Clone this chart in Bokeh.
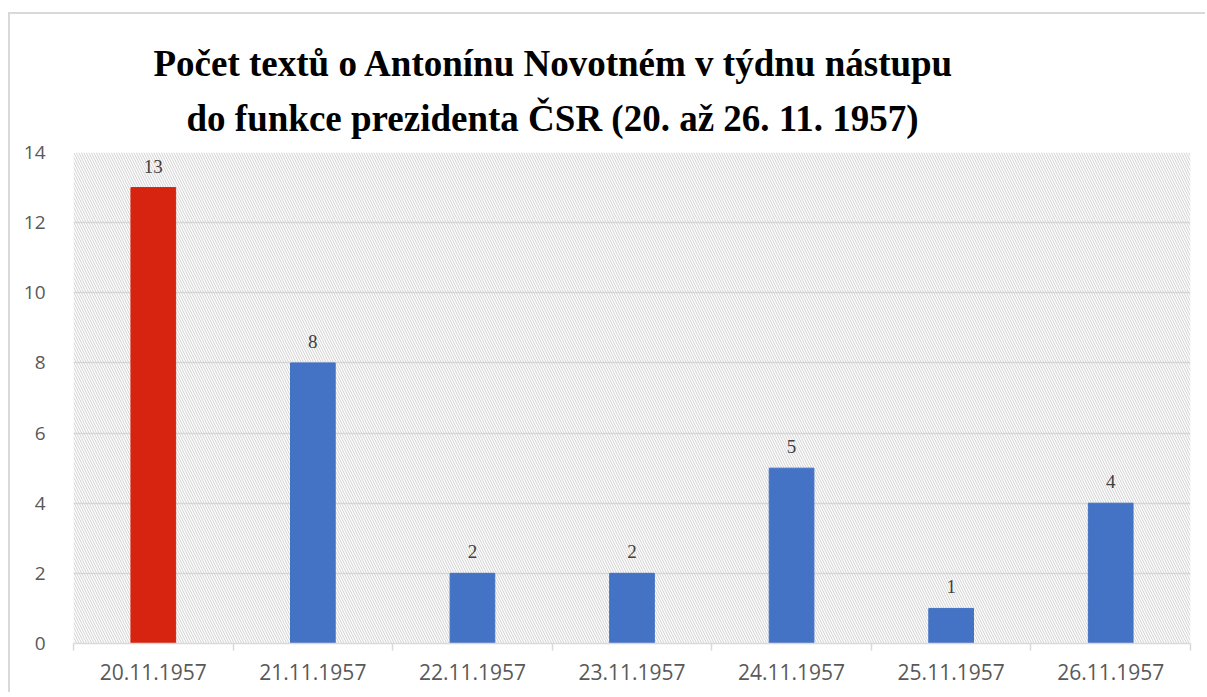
from bokeh.plotting import figure
from bokeh.models import ColumnDataSource, FixedTicker, Range1d, BoxAnnotation, Title, LabelSet
from bokeh.embed import file_html
from bokeh.resources import INLINE

dates = ["20.11.1957", "21.11.1957", "22.11.1957", "23.11.1957",
         "24.11.1957", "25.11.1957", "26.11.1957"]
counts = [13, 8, 2, 2, 5, 1, 4]
colors = ["#D62410", "#4472C4", "#4472C4", "#4472C4", "#4472C4", "#4472C4", "#4472C4"]
y_ticks = [0, 2, 4, 6, 8, 10, 12, 14]
title_lines = ["Počet textů o Antonínu Novotném v týdnu nástupu",
               "do funkce prezidenta ČSR (20. až 26. 11. 1957)"]

xpos = [i + 0.5 for i in range(len(dates))]
src = ColumnDataSource(dict(x=xpos, y=counts, c=colors, lab=[str(v) for v in counts]))

p = figure(width=1197, height=680, output_backend="svg", toolbar_location=None,
           x_range=Range1d(0, len(dates)), y_range=Range1d(0, 14),
           min_border_left=63, min_border_right=17, min_border_bottom=51, min_border_top=10)
p.styles = {"margin-left": "8px", "margin-top": "12px",
            "border-left": "2px solid #d9d9d9", "border-top": "2px solid #d9d9d9"}

bg = BoxAnnotation(fill_alpha=0, line_alpha=0, hatch_pattern="\\", hatch_color="#d0d0d0",
                   hatch_scale=5, hatch_weight=1, level="underlay")
p.add_layout(bg)

p.vbar(x="x", top="y", width=0.28, color="c", source=src)

labels = LabelSet(x="x", y="y", text="lab", source=src, text_align="center",
                  y_offset=15, text_font="Open Sans", text_font_size="19px",
                  text_color="#404040")
p.add_layout(labels)

p.outline_line_color = None
p.xgrid.grid_line_color = None
p.ygrid.grid_line_color = "#d9d9d9"
p.ygrid.grid_line_width = 1.5
p.ygrid.ticker = FixedTicker(ticks=y_ticks)

p.yaxis.ticker = FixedTicker(ticks=y_ticks)
p.yaxis.axis_line_color = None
p.yaxis.major_tick_line_color = None
p.yaxis.minor_tick_line_color = None
p.yaxis.major_label_standoff = 22
p.yaxis.major_label_text_font = "Open Sans"
p.yaxis.major_label_text_font_size = "19px"
p.yaxis.major_label_text_color = "#595959"

p.xaxis.ticker = FixedTicker(ticks=xpos, minor_ticks=list(range(len(dates) + 1)))
p.xaxis.major_label_overrides = {x: d for x, d in zip(xpos, dates)}
p.xaxis.axis_line_color = "#d9d9d9"
p.xaxis.axis_line_width = 1.5
p.xaxis.major_tick_line_color = None
p.xaxis.minor_tick_line_color = "#d9d9d9"
p.xaxis.minor_tick_line_width = 1.5
p.xaxis.minor_tick_out = 7
p.xaxis.minor_tick_in = 0
p.xaxis.major_label_standoff = 13
p.xaxis.major_label_text_font = "Open Sans"
p.xaxis.major_label_text_font_size = "21px"
p.xaxis.major_label_text_color = "#595959"

t2 = Title(text=title_lines[1], align="left", offset=113, text_font="Liberation Serif",
           text_font_size="37px", text_font_style="bold", text_color="#000000", standoff=28)
t1 = Title(text=title_lines[0], align="left", offset=80, text_font="Liberation Serif",
           text_font_size="37px", text_font_style="bold", text_color="#000000", standoff=-4)
t0 = Title(text="\u00a0", align="left", text_font_size="23px", standoff=0)
p.add_layout(t2, "above")
p.add_layout(t1, "above")
p.add_layout(t0, "above")

open("out.html", "w").write(file_html(p, INLINE))
